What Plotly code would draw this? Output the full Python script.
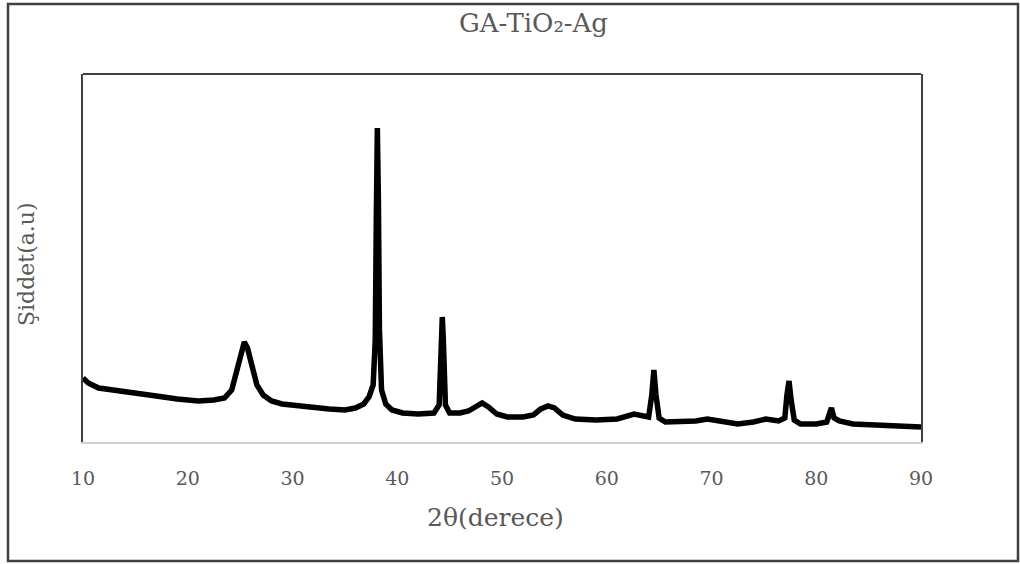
import plotly.graph_objects as go

# 2θ (degrees) and intensity (arbitrary units)
two_theta = [10.0, 10.5, 11.5, 13.0, 15.0, 17.0, 19.0, 21.0, 22.5, 23.5, 24.2, 24.7, 25.1, 25.4, 25.7,
             26.1, 26.6, 27.2, 28.0, 29.0, 30.5, 32.0, 33.5, 35.0, 36.0, 36.8, 37.3, 37.7, 37.9, 38.0,
             38.1, 38.2, 38.3, 38.5, 38.9, 39.5, 40.5, 42.0, 43.5, 44.0, 44.2, 44.3, 44.4, 44.6, 45.0,
             46.0, 46.8, 47.5, 48.1, 48.7, 49.5, 50.5, 52.0, 53.0, 53.7, 54.4, 55.0, 55.8, 57.0, 59.0,
             61.0, 62.6, 63.4, 64.0, 64.3, 64.5, 64.7, 65.0, 65.6, 67.0, 68.5, 69.6, 71.0, 72.5, 74.0,
             75.2, 76.4, 77.0, 77.2, 77.4, 77.6, 77.9, 78.5, 80.0, 81.0, 81.3, 81.45, 81.7, 82.2, 83.5,
             85.0, 87.0, 89.0, 90.0]
intensity = [64, 59, 54, 52, 50, 46, 43, 41, 42, 44, 52, 72, 92, 100, 94,
             77, 57, 47, 41, 38, 36, 35, 33, 32, 34, 38, 45, 57, 102, 222,
             314, 242, 112, 52, 38, 32, 29, 28, 29, 37, 102, 125, 102, 37, 29,
             29, 31, 36, 39, 35, 28, 25, 25, 27, 33, 36, 34, 27, 23, 22,
             23, 28, 26, 25, 47, 72, 47, 24, 20, 20, 21, 23, 20, 18, 20,
             23, 21, 24, 47, 61, 42, 22, 18, 18, 20, 30, 34, 24, 21, 18,
             17, 16, 15, 15]
x_ticks = [10, 20, 30, 40, 50, 60, 70, 80, 90]

title_text = "GA-TiO₂-Ag"
x_title = "2θ(derece)"
y_title = "Şiddet(a.u)"

FONT = "DejaVu Serif"
GREY = "#595959"

fig = go.Figure()
fig.add_trace(go.Scatter(x=two_theta, y=intensity, mode="lines",
                         line=dict(color="black", width=5.5), showlegend=False,
                         hoverinfo="x+y"))

W, H = 1020, 564
L, R, T, B = 83, 921, 74, 442
pw, ph = R - L, B - T

def px(xp):
    return (xp - L) / pw

def py(yp):
    return (B - yp) / ph

fig.update_layout(
    width=W, height=H,
    margin=dict(l=L, r=W - R, t=T, b=H - B),
    paper_bgcolor="white", plot_bgcolor="white",
    font=dict(family=FONT, color=GREY, size=19),
    xaxis=dict(range=[10, 90], tickvals=x_ticks, ticktext=[str(v) for v in x_ticks],
               showgrid=False, zeroline=False, showline=True, linecolor="#d0d0d0", linewidth=2,
               ticks="", ticklabelstandoff=18, tickfont=dict(family=FONT, size=19, color=GREY)),
    yaxis=dict(range=[0, ph], showgrid=False, zeroline=False, showticklabels=False,
               showline=True, linecolor="#404040", linewidth=2, mirror=True, ticks=""),
    shapes=[
        dict(type="line", xref="paper", yref="paper", x0=0, x1=1, y0=1, y1=1,
             line=dict(color="#404040", width=2)),
        dict(type="rect", xref="paper", yref="paper", x0=px(8), x1=px(1018), y0=py(561), y1=py(4),
             line=dict(color="#404040", width=2.5), fillcolor="rgba(0,0,0,0)"),
    ],
    annotations=[
        dict(text=title_text, xref="paper", yref="paper", x=px(533), y=py(23),
             showarrow=False, xanchor="center", yanchor="middle",
             font=dict(family=FONT, size=26, color=GREY)),
        dict(text=x_title, xref="paper", yref="paper", x=px(495), y=py(517),
             showarrow=False, xanchor="center", yanchor="middle",
             font=dict(family=FONT, size=25, color=GREY)),
        dict(text=y_title, xref="paper", yref="paper", x=px(26), y=py(264),
             showarrow=False, xanchor="center", yanchor="middle", textangle=-90,
             font=dict(family=FONT, size=22, color=GREY)),
    ],
)

fig.write_html("out.html", config={"displayModeBar": False},
               post_script="document.body.style.margin='0px';document.body.style.padding='0px';")
